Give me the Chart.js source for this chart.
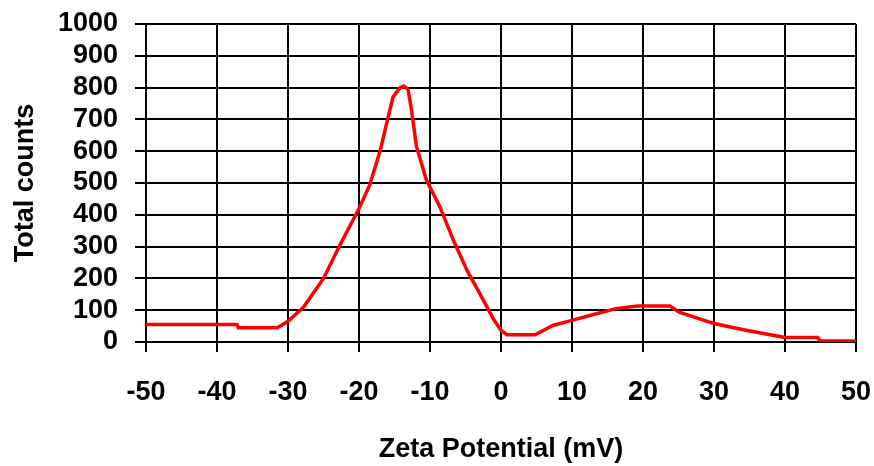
<!DOCTYPE html>
<html lang="en">
<head>
    <meta charset="UTF-8">
    <title>Zeta Potential</title>
    <style>
        body {
            margin: 0;
            background: #fff;
        }
        .chart-box {
            width: 874px;
            height: 466px;
        }
    </style>
    <script src="https://cdn.jsdelivr.net/npm/chart.js"></script>
</head>
<body>
    <div class="chart-box">
        <canvas id="zetaChart" width="874" height="466"></canvas>
    </div>

    <script>
        // data
        var zeta = [-50, -37.2, -37, -31.5, -30, -27.8, -25, -22.7, -20, -18.5, -17, -16.1, -15.2, -14.2, -13.7,
                    -13.1, -12.6, -11.9, -10.5, -8.6, -6.7, -4.8, -3, -1, 0, 0.8, 4.8, 7.3, 10, 13.4, 16.2,
                    19.2, 23.8, 25.1, 30, 34.5, 40, 44.6, 45, 50];
        var counts = [55, 55, 45, 45, 65, 110, 200, 304, 420, 493, 603, 688, 771, 800, 805,
                      795, 729, 614, 509, 425, 320, 226, 153, 70, 37, 23, 23, 52, 68, 89, 105,
                      113, 113, 94, 58, 37, 14, 14, 3, 3];
        var xTicks = [-50, -40, -30, -20, -10, 0, 10, 20, 30, 40, 50];
        var yTicks = [0, 100, 200, 300, 400, 500, 600, 700, 800, 900, 1000];

        var points = zeta.map(function (z, i) { return { x: z, y: counts[i] }; });

        var tickFont = { family: 'Liberation Sans, Arial, sans-serif', size: 27, weight: 'bold' };
        var titleFont = { family: 'Liberation Sans, Arial, sans-serif', size: 27, weight: 'bold' };

        var ctx = document.getElementById('zetaChart').getContext('2d');
        var zetaChart = new Chart(ctx, {
            type: 'line',
            data: {
                datasets: [{
                    data: points,
                    borderColor: '#ff0000',
                    borderWidth: 3.5,
                    pointRadius: 0,
                    tension: 0,
                    fill: false
                }]
            },
            options: {
                responsive: false,
                animation: false,
                layout: { padding: { left: 9, right: 18, top: 24, bottom: 0 } },
                plugins: {
                    legend: { display: false },
                    tooltip: { enabled: false }
                },
                scales: {
                    x: {
                        type: 'linear',
                        min: -50,
                        max: 50,
                        afterBuildTicks: function (scale) {
                            scale.ticks = xTicks.map(function (v) { return { value: v }; });
                        },
                        afterFit: function (scale) {
                            scale.height = 466 - 342;
                            scale.paddingLeft = 0;
                            scale.paddingRight = 0;
                        },
                        grid: { color: '#000', lineWidth: 2, tickLength: 10, tickColor: '#000' },
                        border: { color: '#000', width: 2 },
                        ticks: {
                            color: '#000', font: tickFont, padding: 24, maxRotation: 0, autoSkip: false,
                            callback: function (v) { return String(v); }
                        },
                        title: { display: true, text: 'Zeta Potential (mV)', color: '#000', font: titleFont, padding: { top: 10, bottom: 0 } }
                    },
                    y: {
                        min: 0,
                        max: 1000,
                        afterBuildTicks: function (scale) {
                            scale.ticks = yTicks.map(function (v) { return { value: v }; });
                        },
                        afterFit: function (scale) {
                            scale.width = 146 - 9;
                            scale.paddingTop = 0;
                            scale.paddingBottom = 0;
                        },
                        grid: { color: '#000', lineWidth: 2, tickLength: 11, tickColor: '#000' },
                        border: { color: '#000', width: 2 },
                        ticks: {
                            color: '#000', font: tickFont, padding: 17, autoSkip: false,
                            callback: function (v) { return String(v); }
                        },
                        title: { display: true, text: 'Total counts', color: '#000', font: titleFont, padding: 0 }
                    }
                }
            }
        });
    </script>
</body>
</html>
